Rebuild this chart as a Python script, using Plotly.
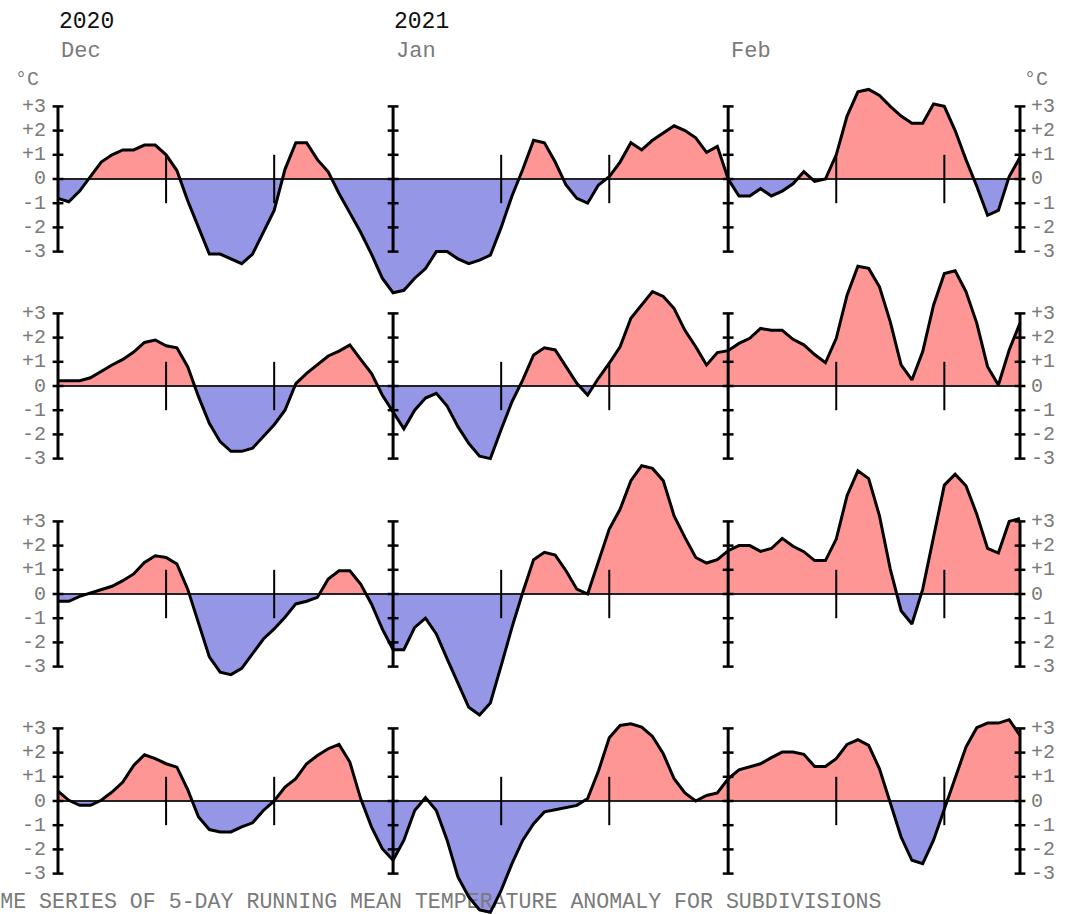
import plotly.graph_objects as go

# ---------------- data (5-day running mean temperature anomaly, degC) ----------------
days = list(range(90))  # 0 = 1 Dec 2020 ... 89 = 28 Feb 2021

panel1 = [-0.8, -0.94, -0.5, 0.1, 0.7, 1.0, 1.2, 1.2, 1.4, 1.4,
          1.0, 0.35, -0.9, -2.0, -3.1, -3.1, -3.3, -3.5, -3.1, -2.2,
          -1.3, 0.4, 1.5, 1.5, 0.8, 0.3, -0.6, -1.4, -2.2, -3.1,
          -4.1, -4.7, -4.6, -4.1, -3.7, -3.0, -3.0, -3.3, -3.5, -3.35,
          -3.15, -2.0, -0.7, 0.4, 1.6, 1.5, 0.7, -0.25, -0.8, -1.0,
          -0.25, 0.1, 0.7, 1.5, 1.2, 1.6, 1.9, 2.2, 2.0, 1.7,
          1.1, 1.35, 0.0, -0.7, -0.7, -0.4, -0.7, -0.5, -0.2, 0.3,
          -0.1, 0.0, 1.0, 2.6, 3.6, 3.7, 3.45, 3.0, 2.6, 2.3,
          2.3, 3.1, 3.0, 2.0, 0.8, -0.3, -1.5, -1.3, 0.1, 0.9]

panel2 = [0.22, 0.22, 0.22, 0.34, 0.62, 0.87, 1.1, 1.4, 1.8, 1.9,
          1.66, 1.58, 0.8, -0.44, -1.54, -2.3, -2.7, -2.7, -2.57, -2.1,
          -1.6, -1.0, 0.1, 0.52, 0.87, 1.24, 1.44, 1.7, 1.1, 0.52,
          -0.37, -1.06, -1.77, -1.0, -0.5, -0.3, -0.83, -1.68, -2.37, -2.9,
          -3.0, -1.8, -0.65, 0.25, 1.28, 1.58, 1.49, 0.8, 0.11, -0.37,
          0.32, 0.94, 1.62, 2.8, 3.34, 3.9, 3.7, 3.2, 2.3, 1.62,
          0.87, 1.38, 1.46, 1.76, 1.97, 2.38, 2.3, 2.3, 1.93, 1.7,
          1.3, 0.96, 1.97, 3.75, 4.95, 4.86, 4.1, 2.65, 0.87, 0.25,
          1.42, 3.34, 4.65, 4.76, 3.9, 2.6, 0.8, 0.04, 1.49, 2.6]

panel3 = [-0.3, -0.3, -0.1, 0.04, 0.2, 0.32, 0.55, 0.83, 1.3, 1.58,
          1.51, 1.24, 0.2, -1.17, -2.6, -3.23, -3.33, -3.07, -2.48, -1.86,
          -1.44, -0.96, -0.41, -0.3, -0.14, 0.62, 0.96, 0.96, 0.41, -0.41,
          -1.44, -2.3, -2.3, -1.38, -1.0, -1.65, -2.68, -3.71, -4.68, -5.0,
          -4.5, -2.96, -1.38, 0.07, 1.42, 1.72, 1.61, 0.96, 0.2, 0.0,
          1.38, 2.68, 3.5, 4.68, 5.3, 5.19, 4.68, 3.23, 2.34, 1.51,
          1.28, 1.42, 1.79, 2.0, 2.0, 1.76, 1.88, 2.3, 1.97, 1.75,
          1.38, 1.38, 2.27, 4.06, 5.09, 4.77, 3.23, 1.03, -0.69, -1.24,
          0.2, 2.41, 4.5, 4.95, 4.47, 3.3, 1.88, 1.69, 3.0, 3.12]

panel4 = [0.41, 0.03, -0.18, -0.18, 0.03, 0.37, 0.78, 1.47, 1.91, 1.75,
          1.54, 1.4, 0.47, -0.66, -1.18, -1.28, -1.28, -1.07, -0.9, -0.39,
          0.0, 0.58, 0.92, 1.54, 1.88, 2.16, 2.34, 1.61, 0.1, -1.07,
          -1.97, -2.45, -1.62, -0.39, 0.14, -0.39, -1.62, -3.14, -3.96, -4.5,
          -4.6, -3.69, -2.59, -1.62, -0.94, -0.45, -0.36, -0.28, -0.18, 0.1,
          1.24, 2.61, 3.12, 3.19, 3.05, 2.67, 1.95, 0.92, 0.33, 0.0,
          0.23, 0.33, 0.92, 1.29, 1.4, 1.54, 1.79, 2.02, 2.02, 1.93,
          1.43, 1.43, 1.75, 2.34, 2.53, 2.3, 1.33, -0.08, -1.49, -2.45,
          -2.59, -1.62, -0.32, 0.92, 2.23, 3.03, 3.22, 3.22, 3.36, 2.71]

panels = [panel1, panel2, panel3, panel4]

month_labels = ["Dec", "Jan", "Feb"]
month_start_days = [0, 31, 62]
year_labels = ["2020", "2021"]
year_days = [0, 31]
frame_days = [0, 31, 62, 89]
mid_days = [10, 20, 41, 51, 72, 82]
y_ticks = [3, 2, 1, 0, -1, -2, -3]
y_tick_text = ["+3", "+2", "+1", "0", "-1", "-2", "-3"]
title_text = "ME SERIES OF 5-DAY RUNNING MEAN TEMPERATURE ANOMALY FOR SUBDIVISIONS"

# ---------------- layout geometry (pixels) ----------------
W, H = 1068, 914
X_DAY0_PX, X_DAYLAST_PX = 58, 1020
PPD = (X_DAYLAST_PX - X_DAY0_PX) / 89.0
ZERO_PX = [179, 386, 594, 801]
PX_PER_DEG = 24.2

RED = "#FF9696"
BLUE = "#9696E6"
GRAY = "#7a7a7a"
MONO = "Liberation Mono, DejaVu Sans Mono, monospace"

x_range = [-X_DAY0_PX / PPD, 89 + (W - X_DAYLAST_PX) / PPD]

fig = go.Figure()


def split_fill(x, y):
    xs, pos, neg = [], [], []
    for i in range(len(y)):
        if i > 0 and ((y[i - 1] < 0 < y[i]) or (y[i - 1] > 0 > y[i])):
            t = y[i - 1] / (y[i - 1] - y[i])
            xc = x[i - 1] + t * (x[i] - x[i - 1])
            xs.append(xc); pos.append(0.0); neg.append(0.0)
        xs.append(x[i]); pos.append(max(y[i], 0.0)); neg.append(min(y[i], 0.0))
    return xs, pos, neg


layout_axes = {}
annotations = []
for k, vals in enumerate(panels):
    idx = k + 1
    yname = "y" if idx == 1 else f"y{idx}"
    ykey = "yaxis" if idx == 1 else f"yaxis{idx}"
    z = ZERO_PX[k]
    top_px = max(0, z - 150)
    bot_px = min(H, z + 135)
    layout_axes[ykey] = dict(
        domain=[1 - bot_px / H, 1 - top_px / H],
        range=[(z - bot_px) / PX_PER_DEG, (z - top_px) / PX_PER_DEG],
        visible=False, fixedrange=True, anchor="x",
    )

    xs, pos, neg = split_fill(days, vals)
    fig.add_trace(go.Scatter(x=xs, y=pos, mode="lines", fill="tozeroy", fillcolor=RED,
                             line=dict(width=0, color=RED), yaxis=yname, hoverinfo="skip",
                             showlegend=False))
    fig.add_trace(go.Scatter(x=xs, y=neg, mode="lines", fill="tozeroy", fillcolor=BLUE,
                             line=dict(width=0, color=BLUE), yaxis=yname, hoverinfo="skip",
                             showlegend=False))
    if k == 3:
        fig.add_trace(go.Scatter(x=[x_range[0] + 0.02], y=[(z - 903) / PX_PER_DEG], mode="text",
                                 text=[title_text], textposition="middle right",
                                 textfont=dict(family=MONO, size=21.6, color=GRAY),
                                 yaxis=yname, cliponaxis=False, hoverinfo="skip",
                                 showlegend=False))
    # zero line
    fig.add_trace(go.Scatter(x=[days[0], days[-1]], y=[0, 0], mode="lines",
                             line=dict(color="#222222", width=2), yaxis=yname,
                             hoverinfo="skip", showlegend=False))
    # frame axes with ticks
    ax_x, ax_y = [], []
    for d in frame_days:
        ax_x += [d, d, None]; ax_y += [-3, 3, None]
    fig.add_trace(go.Scatter(x=ax_x, y=ax_y, mode="lines", line=dict(color="black", width=3),
                             yaxis=yname, hoverinfo="skip", showlegend=False))
    tk_x, tk_y = [], []
    for d in frame_days:
        for t in y_ticks:
            tk_x += [d - 0.5, d + 0.5, None]; tk_y += [t, t, None]
    fig.add_trace(go.Scatter(x=tk_x, y=tk_y, mode="lines", line=dict(color="black", width=2.5),
                             yaxis=yname, hoverinfo="skip", showlegend=False))
    md_x, md_y = [], []
    for d in mid_days:
        md_x += [d, d, None]; md_y += [-1, 1, None]
    fig.add_trace(go.Scatter(x=md_x, y=md_y, mode="lines", line=dict(color="black", width=2),
                             yaxis=yname, hoverinfo="skip", showlegend=False))
    # data line
    fig.add_trace(go.Scatter(x=days, y=vals, mode="lines", line=dict(color="black", width=3),
                             yaxis=yname, hoverinfo="skip", showlegend=False))

    for t, lab in zip(y_ticks, y_tick_text):
        annotations.append(dict(x=-0.95, y=t, xref="x", yref=yname, text=lab, showarrow=False,
                                xanchor="right", yanchor="middle",
                                font=dict(family=MONO, size=20, color=GRAY)))
        annotations.append(dict(x=89.85, y=t, xref="x", yref=yname, text=lab, showarrow=False,
                                xanchor="left", yanchor="middle",
                                font=dict(family=MONO, size=20, color=GRAY)))
    if k == 0:
        for xd, anc in [(-4.2, "left"), (89.15, "left")]:
            annotations.append(dict(x=xd, y=(z - 80) / PX_PER_DEG, xref="x", yref=yname,
                                    text="°C", showarrow=False, xanchor=anc, yanchor="middle",
                                    font=dict(family=MONO, size=20, color=GRAY)))

for lab, d in zip(year_labels, year_days):
    annotations.append(dict(x=d - 0.1, y=1 - 22 / H, xref="x", yref="paper", text=lab,
                            showarrow=False, xanchor="left", yanchor="middle",
                            font=dict(family=MONO, size=23, color="#111111")))
for lab, d in zip(month_labels, month_start_days):
    annotations.append(dict(x=d + 0.1, y=1 - 51 / H, xref="x", yref="paper", text=lab,
                            showarrow=False, xanchor="left", yanchor="middle",
                            font=dict(family=MONO, size=22, color=GRAY)))

fig.update_layout(
    width=W, height=H,
    margin=dict(l=0, r=0, t=0, b=0),
    paper_bgcolor="white", plot_bgcolor="rgba(0,0,0,0)",
    xaxis=dict(domain=[0, 1], range=x_range, visible=False, fixedrange=True),
    annotations=annotations,
    showlegend=False,
    **layout_axes,
)

fig.write_html("out.html", config={"displayModeBar": False},
               post_script="document.body.style.margin='0';document.body.style.overflow='hidden';")
